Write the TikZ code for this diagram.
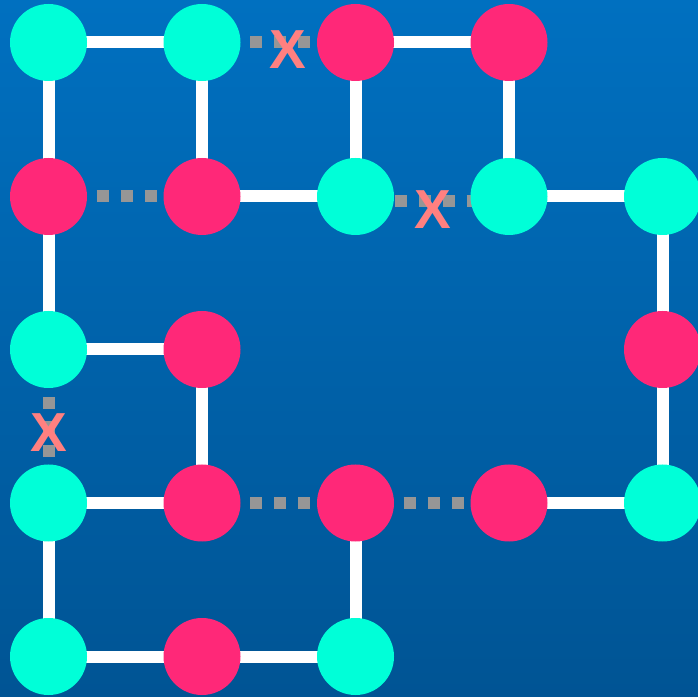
\documentclass[tikz,border=0pt]{standalone}
\usepackage{fontspec}
\setmainfont{Liberation Sans}
\definecolor{bgtop}{RGB}{0,112,192}
\definecolor{bgbot}{RGB}{0,84,148}
\definecolor{cyn}{RGB}{0,255,216}
\definecolor{pnk}{RGB}{255,40,120}
\definecolor{dotgray}{RGB}{150,150,150}
\definecolor{xred}{RGB}{255,128,128}
\pgfdeclarelayer{bglayer}
\pgfdeclarelayer{edgelayer}
\pgfsetlayers{bglayer,edgelayer,main}
\tikzset{
  disc/.style={circle, minimum size=77pt, inner sep=0pt, draw=none},
  cy/.style={disc, fill=cyn},
  pk/.style={disc, fill=pnk},
  link/.style={white, line width=12pt},
  gapline/.style={dotgray, line width=12pt, dash pattern=on 12pt off 12pt},
  xmark/.style={text=xred, inner sep=0pt, font=\fontsize{55}{55}\selectfont\bfseries}
}
\begin{document}
\begin{tikzpicture}[x=1pt,y=1pt]
\useasboundingbox (0,0) rectangle (698,696);
\begin{pgfonlayer}{bglayer}
\shade[top color=bgtop, bottom color=bgbot] (0,0) rectangle (698,696);
\end{pgfonlayer}
% row 0
\node[cy] (n00) at (48.5,653.5) {};
\node[cy] (n01) at (202,653.5) {};
\node[pk] (n02) at (355.5,653.5) {};
\node[pk] (n03) at (509,653.5) {};
% row 1
\node[pk] (n10) at (48.5,499.5) {};
\node[pk] (n11) at (202,499.5) {};
\node[cy] (n12) at (355.5,499.5) {};
\node[cy] (n13) at (509,499.5) {};
\node[cy] (n14) at (662.5,499.5) {};
% row 2
\node[cy] (n20) at (48.5,346.5) {};
\node[pk] (n21) at (202,346.5) {};
\node[pk] (n24) at (662.5,346.5) {};
% row 3
\node[cy] (n30) at (48.5,193) {};
\node[pk] (n31) at (202,193) {};
\node[pk] (n32) at (355.5,193) {};
\node[pk] (n33) at (509,193) {};
\node[cy] (n34) at (662.5,193) {};
% row 4
\node[cy] (n40) at (48.5,39.5) {};
\node[pk] (n41) at (202,39.5) {};
\node[cy] (n42) at (355.5,39.5) {};

\begin{pgfonlayer}{edgelayer}
% solid links
\draw[link] (n00.center) -- (n01.center);
\draw[link] (n02.center) -- (n03.center);
\draw[link] (n00.center) -- (n10.center);
\draw[link] (n01.center) -- (n11.center);
\draw[link] (n02.center) -- (n12.center);
\draw[link] (n03.center) -- (n13.center);
\draw[link] (n11.center) -- (n12.center);
\draw[link] (n13.center) -- (n14.center);
\draw[link] (n10.center) -- (n20.center);
\draw[link] (n14.center) -- (n24.center);
\draw[link] (n20.center) -- (n21.center);
\draw[link] (n21.center) -- (n31.center);
\draw[link] (n24.center) -- (n34.center);
\draw[link] (n30.center) -- (n31.center);
\draw[link] (n33.center) -- (n34.center);
\draw[link] (n30.center) -- (n40.center);
\draw[link] (n32.center) -- (n42.center);
\draw[link] (n40.center) -- (n41.center);
\draw[link] (n41.center) -- (n42.center);
% broken links
\draw[gapline] (n01.center) -- (n02.center);
\draw[gapline] (n10.center) -- (n11.center);
\draw[gapline, dash phase=9pt] ([yshift=-5pt]n12.center) -- ([yshift=-5pt]n13.center);
\draw[gapline] (n20.center) -- (n30.center);
\draw[gapline] (n31.center) -- (n32.center);
\draw[gapline] (n32.center) -- (n33.center);
\end{pgfonlayer}

% cut marks
\node[xmark] (x1) at (288,646.5) {X};
\node[xmark] (x2) at (432.5,486.5) {X};
\node[xmark] (x3) at (49,263) {X};
\end{tikzpicture}
\end{document}
